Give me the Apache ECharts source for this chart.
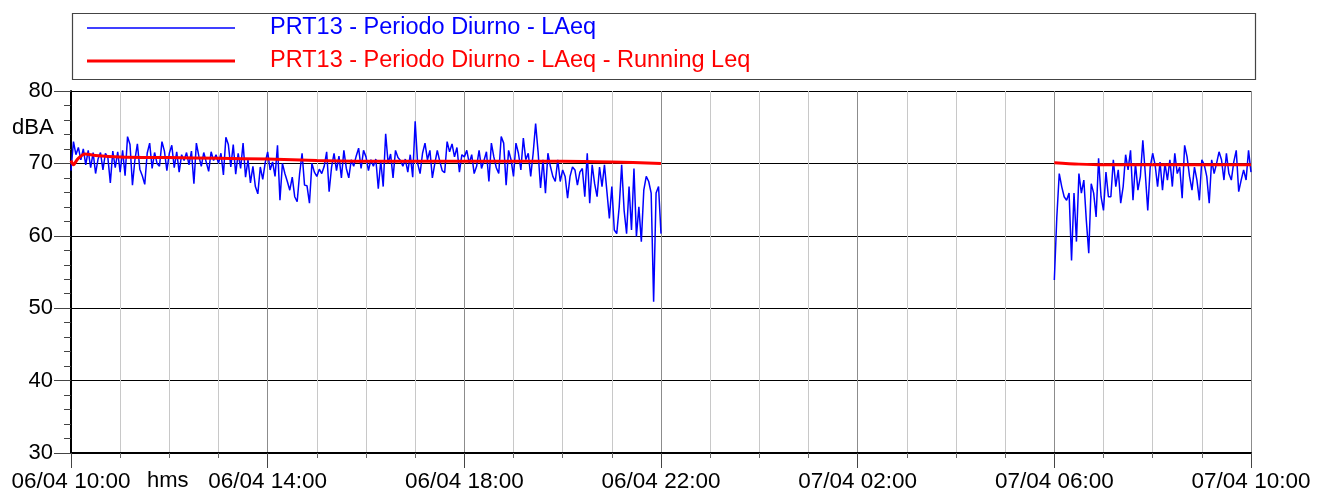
<!DOCTYPE html>
<html>
<head>
<meta charset="utf-8">
<script src="https://cdn.jsdelivr.net/npm/echarts@6/dist/echarts.min.js"></script>
<style>
html,body{margin:0;padding:0;background:#fff;}
#chart{width:1330px;height:495px;}
</style>
</head>
<body>
<div id="chart"></div>
<script>
// ---- DATA (minutes from 06/04 10:00, 3-minute samples) ----
const seriesNames = ['PRT13 - Periodo Diurno - LAeq', 'PRT13 - Periodo Diurno - LAeq - Running Leq'];
const stepMin = 3;
const seg1Start = 0;      // 06/04 10:00
const seg2Start = 1200;   // 07/04 06:00
const xTickLabels = ['06/04 10:00','06/04 14:00','06/04 18:00','06/04 22:00','07/04 02:00','07/04 06:00','07/04 10:00'];

const h10 = [69.0,73.0,71.2,72.2,70.5,72.0,69.8,71.8,69.4,71.5,68.6,70.6,71.5,69.1,71.4,70.8,67.3,71.7,69.4,71.6];
const h11 = [68.8,71.8,68.3,73.7,72.6,67.0,70.5,72.7,69.2,68.3,67.1,71.4,72.8,69.3,71.5,70.0,69.6,73.0,71.7,69.0];
const h12 = [71.4,72.5,69.4,71.6,68.8,71.2,70.4,71.5,69.8,71.7,67.2,72.8,71.0,69.6,71.5,70.2,68.9,71.6,70.4,71.2];
const h13 = [70.0,71.4,68.4,73.6,72.6,69.5,72.6,68.5,71.4,69.3,72.8,68.1,70.5,67.3,69.6,66.8,65.8,69.5,67.8,70.1];
const h14 = [71.6,69.1,70.2,68.2,72.5,64.9,70.0,68.6,67.5,66.3,68.1,65.4,64.7,68.6,71.4,67.0,66.9,64.5,70.0,68.8];
const h15 = [68.2,69.2,68.6,69.6,71.6,66.1,69.5,71.4,69.0,71.0,68.0,71.8,69.3,68.0,70.5,69.6,71.0,72.1,69.3,71.8];
const h16 = [70.9,69.0,70.5,69.6,70.6,66.5,70.4,66.8,74.1,70.0,71.3,68.0,71.8,70.8,70.4,69.6,70.6,68.8,71.2,68.1];
const h17 = [75.8,70.0,68.6,71.4,72.8,70.5,71.8,68.0,70.0,71.8,70.3,69.0,68.7,73.0,71.6,72.7,70.9,72.2,68.8,71.2];
const h18 = [70.9,71.8,70.0,71.2,68.6,69.6,71.8,69.3,70.4,71.6,67.5,72.8,70.9,69.4,68.6,73.7,72.8,67.0,71.8,70.5];
const h19 = [68.2,72.8,71.4,69.1,73.5,70.5,71.4,68.2,71.4,75.5,71.6,66.6,70.5,65.9,71.4,69.6,68.2,67.5,70.5,67.5];
const h20 = [69.1,68.2,65.2,68.2,69.5,69.1,67.0,68.8,69.3,65.4,71.4,64.5,69.8,67.2,65.4,69.5,66.8,69.8,66.1,62.4];
const h21 = [66.8,60.8,60.3,64.0,69.8,63.5,60.3,66.8,60.8,69.3,59.9,64.0,59.2,66.3,68.2,67.5,65.9,50.9,65.9,66.8];
const h22end = [60.3];

const seg2 = [53.9,62.5,68.6,66.8,65.4,64.9,65.9,56.6,65.9,59.2,68.6,65.9,67.7,62.2,57.6,67.2,65.9,62.6,70.7,65.4,
              63.5,68.8,65.4,65.4,70.5,66.8,69.1,64.5,66.8,71.2,69.1,71.8,64.9,70.0,66.3,68.2,73.2,68.6,63.5,69.5,
              71.4,69.8,66.8,70.2,66.3,70.0,67.7,70.5,66.8,71.4,68.6,69.5,65.2,72.5,70.9,68.2,66.3,69.5,67.7,64.9,
              70.5,69.8,68.2,64.5,70.5,68.6,70.0,71.6,70.5,67.7,71.4,68.6,67.7,70.2,71.8,66.1,67.7,69.1,67.7,71.8,68.8];

const runMin1 = [0,3,8,17,30,60,120,180,240,300,360,420,480,540,600,660,720];
const runVal1 = [70.4,69.8,70.6,71.3,71.1,70.9,70.8,70.7,70.6,70.4,70.3,70.3,70.3,70.3,70.3,70.2,70.0];
const runMin2 = [1200,1230,1260,1320,1380,1440];
const runVal2 = [70.1,69.9,69.8,69.8,69.8,69.8];

// ---- build series data ----
const seg1 = [].concat(h10,h11,h12,h13,h14,h15,h16,h17,h18,h19,h20,h21,h22end);
const laeq = seg1.map((v,i)=>[seg1Start+i*stepMin, v]);
laeq.push([960, null]);
seg2.forEach((v,i)=>laeq.push([seg2Start+i*stepMin, v]));
const running = runMin1.map((m,i)=>[m, runVal1[i]]);
running.push([960, null]);
runMin2.forEach((m,i)=>running.push([m, runVal2[i]]));

const FONT = 'Liberation Sans, Arial, sans-serif';
const legendText = {fontSize:23.5,fontFamily:FONT,lineHeight:24,padding:[0,0,0,30]};
const chart = echarts.init(document.getElementById('chart'), null, {renderer:'canvas'});
chart.setOption({
  animation:false,
  backgroundColor:'#fff',
  textStyle:{fontFamily:FONT},
  grid:{left:71,right:79,top:91,bottom:42,containLabel:false},
  legend:[
    {orient:'vertical', left:87, top:16, padding:0, itemWidth:148, itemHeight:1.3, icon:'rect',
     textStyle:Object.assign({color:'#0000ff'},legendText), data:[seriesNames[0]]},
    {orient:'vertical', left:87, top:49, padding:0, itemWidth:148, itemHeight:3, icon:'rect',
     textStyle:Object.assign({color:'#ff0000'},legendText), data:[seriesNames[1]]}
  ],
  graphic:[
    {type:'rect',left:70,top:11,z:-1,shape:{width:1183,height:66},style:{fill:'none',stroke:'#444',lineWidth:1.2}},
    {type:'text',left:12,top:117,style:{text:'dBA',font:'22px '+FONT,fill:'#000'}},
    {type:'text',left:147,top:470,style:{text:'hms',font:'22px '+FONT,fill:'#000'}}
  ],
  xAxis:{
    type:'value', min:0, max:1440, interval:240,
    axisLine:{show:true,lineStyle:{color:'#000',width:2}},
    axisTick:{show:true,length:15,lineStyle:{color:'#444'}},
    minorTick:{show:true,splitNumber:4,length:5,lineStyle:{color:'#666'}},
    splitLine:{show:true,lineStyle:{color:'#8c8c8c',width:1}},
    minorSplitLine:{show:true,lineStyle:{color:'#c8c8c8',width:1}},
    axisLabel:{fontSize:22.5,color:'#000',margin:17,fontFamily:FONT,
      formatter:function(v){return xTickLabels[Math.round(v/240)] || '';}}
  },
  yAxis:{
    type:'value', min:30, max:80, interval:10,
    axisLine:{show:true,lineStyle:{color:'#000',width:2}},
    axisTick:{show:true,length:17,lineStyle:{color:'#444'}},
    minorTick:{show:true,splitNumber:5,length:7,lineStyle:{color:'#444'}},
    splitLine:{show:true,lineStyle:{color:'#000',width:1}},
    axisLabel:{fontSize:22,color:'#000',margin:18,fontFamily:FONT}
  },
  series:[
    {name:seriesNames[0],type:'line',data:laeq,showSymbol:false,symbol:'none',connectNulls:false,
     lineStyle:{color:'#0000ff',width:1.5},itemStyle:{color:'#0000ff'},z:2},
    {name:seriesNames[1],type:'line',data:running,showSymbol:false,symbol:'none',connectNulls:false,smooth:0.3,
     lineStyle:{color:'#ff0000',width:3},itemStyle:{color:'#ff0000'},z:3}
  ]
});
</script>
</body>
</html>
